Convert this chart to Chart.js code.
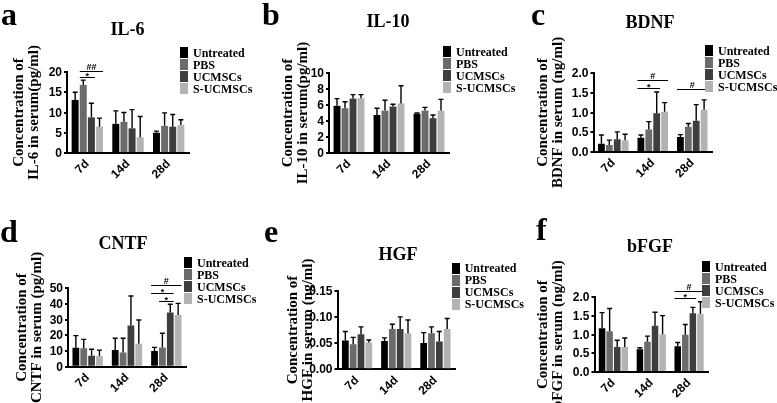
<!DOCTYPE html>
<html>
<head>
<meta charset="utf-8">
<script src="https://cdn.jsdelivr.net/npm/chart.js@4.4.0/dist/chart.umd.min.js"></script>
<style>
  body { margin: 0; background: #fff; }
  #fig { position: relative; width: 777px; height: 403px; overflow: hidden; font-family: 'Liberation Serif', 'Times New Roman', serif; color: #000; }
  #fig canvas { position: absolute; }
  .letter { position: absolute; font-weight: bold; font-size: 32px; line-height: 1; white-space: nowrap; }
  .ptitle { position: absolute; font-weight: bold; font-size: 18px; line-height: 1; white-space: nowrap; transform: translate(-50%, -50%); }
  .leg { position: absolute; font-weight: bold; font-size: 12px; line-height: 12px; height: 12px; white-space: nowrap; }
  .leg span.box { display: inline-block; width: 8px; height: 11px; vertical-align: top; margin-top: 0.5px; margin-right: 5px; }
  .ytick { position: absolute; font: bold 12px 'Liberation Sans', Arial, sans-serif; line-height: 1; white-space: nowrap; transform: translate(-100%, -50%); z-index: 5; }
</style>
</head>
<body>
<div id="fig"></div>
<script>
// groups and time points
const groups = ['Untreated', 'PBS', 'UCMSCs', 'S-UCMSCs'];
const groupColors = ['#000000', '#6b6b6b', '#3e3e3e', '#b3b3b3'];
const timepoints = ['7d', '14d', '28d'];

// IL-6 (pg/ml): one row per group, values for 7d / 14d / 28d
const il6Mean = [[13.1, 7.2, 5.0], [16.8, 7.7, 6.7], [8.8, 6.1, 6.5], [6.5, 3.9, 6.9]];
const il6Err  = [[1.9, 3.2, 0.4], [1.2, 2.3, 3.2], [3.5, 4.6, 3.0], [2.1, 5.1, 1.3]];
const il6Ticks = ['0', '5', '10', '15', '20'];
const il6Sig = [{ t: 0, a: 1, b: 2, v: 18.8, s: '*' }, { t: 0, a: 1, b: 3, v: 20.3, s: '##' }];

// IL-10 (pg/ml)
const il10Mean = [[5.9, 4.75, 4.9], [5.6, 5.3, 5.3], [6.8, 5.8, 4.35], [6.85, 6.2, 5.3]];
const il10Err  = [[0.9, 0.85, 0.1], [0.8, 1.3, 0.4], [0.5, 0.3, 0.4], [0.45, 2.2, 1.4]];
const il10Ticks = ['0', '2', '4', '6', '8', '10'];
const il10Sig = [];

// BDNF (ng/ml)
const bdnfMean = [[0.21, 0.36, 0.38], [0.18, 0.57, 0.64], [0.32, 0.98, 0.79], [0.30, 1.02, 1.07]];
const bdnfErr  = [[0.22, 0.07, 0.06], [0.12, 0.20, 0.08], [0.19, 0.54, 0.41], [0.15, 0.23, 0.25]];
const bdnfTicks = ['0.0', '0.5', '1.0', '1.5', '2.0'];
const bdnfSig = [{ t: 1, a: 0, b: 2, v: 1.61, s: '*' }, { t: 1, a: 0, b: 3, v: 1.82, s: '#' }, { t: 2, a: 0, b: 3, v: 1.59, s: '#' }];

// CNTF (pg/ml)
const cntfMean = [[12.1, 10.6, 10.0], [11.7, 9.1, 12.3], [7.0, 26.2, 34.5], [6.8, 14.7, 33.0]];
const cntfErr  = [[7.7, 7.5, 2.3], [5.7, 9.0, 9.0], [4.1, 18.9, 5.3], [3.8, 15.1, 7.4]];
const cntfTicks = ['0', '10', '20', '30', '40', '50'];
const cntfSig = [{ t: 2, a: 0, b: 3, v: 52.1, s: '#' }, { t: 2, a: 0, b: 2, v: 46.8, s: '*' }, { t: 2, a: 1, b: 2, v: 42.1, s: '*' }];

// HGF (ng/ml)
const hgfMean = [[0.055, 0.054, 0.050], [0.048, 0.077, 0.069], [0.067, 0.077, 0.053], [0.051, 0.069, 0.077]];
const hgfErr  = [[0.017, 0.006, 0.020], [0.013, 0.009, 0.012], [0.014, 0.023, 0.019], [0.005, 0.025, 0.020]];
const hgfTicks = ['0.00', '0.05', '0.10', '0.15'];
const hgfSig = [];

// bFGF (ng/ml)
const bfgfMean = [[1.17, 0.61, 0.69], [1.09, 0.81, 1.00], [0.67, 1.24, 1.57], [0.67, 1.01, 1.55]];
const bfgfErr  = [[0.42, 0.04, 0.10], [0.61, 0.15, 0.27], [0.18, 0.36, 0.16], [0.24, 0.50, 0.33]];
const bfgfTicks = ['0.0', '0.5', '1.0', '1.5', '2.0'];
const bfgfSig = [{ t: 2, a: 0, b: 3, v: 2.18, s: '#' }, { t: 2, a: 0, b: 2, v: 1.99, s: '*' }];

// panel layout (box = canvas x,y,w,h ; area = plot left,top,right,bottom in page px)
const panels = [
  { letter: 'a', title: 'IL-6', ytitle: ['Concentration of', 'IL-6 in serum(pg/ml)'], mean: il6Mean, err: il6Err, ticks: il6Ticks, sig: il6Sig,
    box: [0, 0, 260, 200], area: [67, 72, 189, 153], titlePad: 11.5, titleAt: [127.5, 28.5], letterAt: [1, 25], legendAt: [180, 52.5] },
  { letter: 'b', title: 'IL-10', ytitle: ['Concentration of', 'IL-10 in serum(pg/ml)'], mean: il10Mean, err: il10Err, ticks: il10Ticks, sig: il10Sig,
    box: [260, 0, 260, 200], area: [329, 73, 449, 153], titlePad: 20.8, titleAt: [388, 21], letterAt: [262, 25], legendAt: [443, 51.7] },
  { letter: 'c', title: 'BDNF', ytitle: ['Concentration of', 'BDNF in serum (ng/ml)'], mean: bdnfMean, err: bdnfErr, ticks: bdnfTicks, sig: bdnfSig,
    box: [520, 0, 257, 200], area: [593.5, 73, 712, 152], titlePad: 16, titleAt: [650, 21.5], letterAt: [531, 25], legendAt: [705, 50.7] },
  { letter: 'd', title: 'CNTF', ytitle: ['Concentration of', 'CNTF in serum (pg/ml)'], mean: cntfMean, err: cntfErr, ticks: cntfTicks, sig: cntfSig,
    box: [0, 200, 260, 203], area: [68, 288.3, 186, 366.7], titlePad: 14.2, titleAt: [123, 243], letterAt: [0, 242], legendAt: [184, 262.7] },
  { letter: 'e', title: 'HGF', ytitle: ['Concentration of', 'HGF in serum (ng/ml)'], mean: hgfMean, err: hgfErr, ticks: hgfTicks, sig: hgfSig,
    box: [260, 200, 260, 203], area: [337.5, 290.7, 455, 369.3], titlePad: 25.8, titleAt: [398, 254], letterAt: [264, 242], legendAt: [451.7, 268.3] },
  { letter: 'f', title: 'bFGF', ytitle: ['Concentration of', 'bFGF in serum (ng/ml)'], mean: bfgfMean, err: bfgfErr, ticks: bfgfTicks, sig: bfgfSig,
    box: [520, 200, 257, 203], area: [594.5, 297.3, 708, 372], titlePad: 16, titleAt: [650, 245.5], letterAt: [536, 240], legendAt: [702, 266.7] }
];

const TICK_LEN = 3, TICK_PAD = 2;

// error bars (upper only) and significance brackets, one plugin per chart
function makeOverlay(marks) {
  return {
    id: 'overlay',
    afterDraw(chart) {
      const ctx = chart.ctx;
      const y = chart.scales.y;
      ctx.save();
      ctx.strokeStyle = '#000';
      ctx.lineWidth = 1.4;
      chart.data.datasets.forEach((ds, i) => {
        chart.getDatasetMeta(i).data.forEach((bar, j) => {
          const top = y.getPixelForValue(ds.data[j] + ds.err[j]);
          ctx.beginPath();
          ctx.moveTo(bar.x, bar.y);
          ctx.lineTo(bar.x, top);
          ctx.moveTo(bar.x - 2.5, top);
          ctx.lineTo(bar.x + 2.5, top);
          ctx.stroke();
        });
      });
      ctx.lineWidth = 1;
      ctx.fillStyle = '#000';
      ctx.font = 'bold 9px "Liberation Sans", Arial, sans-serif';
      ctx.textAlign = 'center';
      ctx.textBaseline = 'alphabetic';
      marks.forEach(m => {
        const b1 = chart.getDatasetMeta(m.a).data[m.t];
        const b2 = chart.getDatasetMeta(m.b).data[m.t];
        const x1 = b1.x - b1.width / 2, x2 = b2.x + b2.width / 2;
        const py = Math.round(y.getPixelForValue(m.v)) + 0.5;
        ctx.beginPath();
        ctx.moveTo(x1, py);
        ctx.lineTo(x2, py);
        ctx.stroke();
        ctx.fillText(m.s, (x1 + x2) / 2, m.s.charAt(0) === '*' ? py + 1.5 : py - 1.5);
      });
      ctx.restore();
    }
  };
}

const fig = document.getElementById('fig');

function addDiv(cls, text, left, top) {
  const d = document.createElement('div');
  d.className = cls;
  d.textContent = text;
  d.style.left = left + 'px';
  d.style.top = top + 'px';
  fig.appendChild(d);
  return d;
}

const charts = [];

panels.forEach(p => {
  const [cx, cy, w, h] = p.box;
  const [L, T, R, B] = p.area;
  const canvas = document.createElement('canvas');
  canvas.width = w;
  canvas.height = h;
  canvas.style.left = cx + 'px';
  canvas.style.top = cy + 'px';
  fig.appendChild(canvas);

  const tickValues = p.ticks.map(Number);

  const chart = new Chart(canvas, {
    type: 'bar',
    data: {
      labels: timepoints,
      datasets: groups.map((g, i) => ({
        label: g,
        data: p.mean[i],
        err: p.err[i],
        backgroundColor: groupColors[i],
        borderWidth: 0,
        categoryPercentage: 0.8,
        barPercentage: 0.86
      }))
    },
    options: {
      responsive: false,
      animation: false,
      devicePixelRatio: 1,
      events: [],
      layout: { padding: { left: 0, top: T - cy, right: cx + w - R, bottom: 0 } },
      plugins: {
        legend: { display: false },
        tooltip: { enabled: false }
      },
      scales: {
        x: {
          grid: { display: false, drawTicks: false },
          border: { color: '#000', width: 2 },
          ticks: {
            color: '#000',
            font: { family: 'Liberation Sans', weight: 'bold', size: 12 },
            minRotation: 45,
            maxRotation: 45,
            autoSkip: false,
            padding: 4
          },
          afterFit(s) { s.height = cy + h - B; }
        },
        y: {
          min: 0,
          max: tickValues[tickValues.length - 1],
          afterBuildTicks(s) { s.ticks = tickValues.map(v => ({ value: v })); },
          ticks: {
            autoSkip: false,
            color: 'rgba(0,0,0,0)',
            padding: TICK_PAD,
            font: { family: 'Liberation Sans', weight: 'bold', size: 12 },
            callback: (v) => p.ticks[tickValues.indexOf(v)]
          },
          grid: { drawOnChartArea: false, drawTicks: true, tickLength: TICK_LEN, color: '#000', lineWidth: 2 },
          border: { color: '#000', width: 2 },
          title: {
            display: true,
            text: p.ytitle,
            color: '#000',
            font: { family: 'Liberation Serif', weight: 'bold', size: 15, lineHeight: 1 },
            padding: { top: p.titlePad, bottom: 0 }
          },
          afterFit(s) { s.width = L - cx; }
        }
      }
    },
    plugins: [makeOverlay(p.sig)]
  });
  charts.push(chart);

  // panel letter, title and legend
  addDiv('letter', p.letter, p.letterAt[0], p.letterAt[1] - 27);
  addDiv('ptitle', p.title, p.titleAt[0], p.titleAt[1]);
  groups.forEach((g, i) => {
    const row = document.createElement('div');
    row.className = 'leg';
    row.style.left = p.legendAt[0] + 'px';
    row.style.top = (p.legendAt[1] - 6 + i * 12) + 'px';
    const box = document.createElement('span');
    box.className = 'box';
    box.style.background = groupColors[i];
    row.appendChild(box);
    row.appendChild(document.createTextNode(g));
    fig.appendChild(row);
  });
});

// y tick labels, placed with each chart's own y scale, on top of everything
charts.forEach((chart, k) => {
  const p = panels[k];
  const [cx, cy] = p.box;
  const y = chart.scales.y;
  y.ticks.forEach((tk, i) => {
    addDiv('ytick', p.ticks[i], cx + y.right - TICK_LEN - TICK_PAD, cy + y.getPixelForValue(tk.value));
  });
});
</script>
</body>
</html>
